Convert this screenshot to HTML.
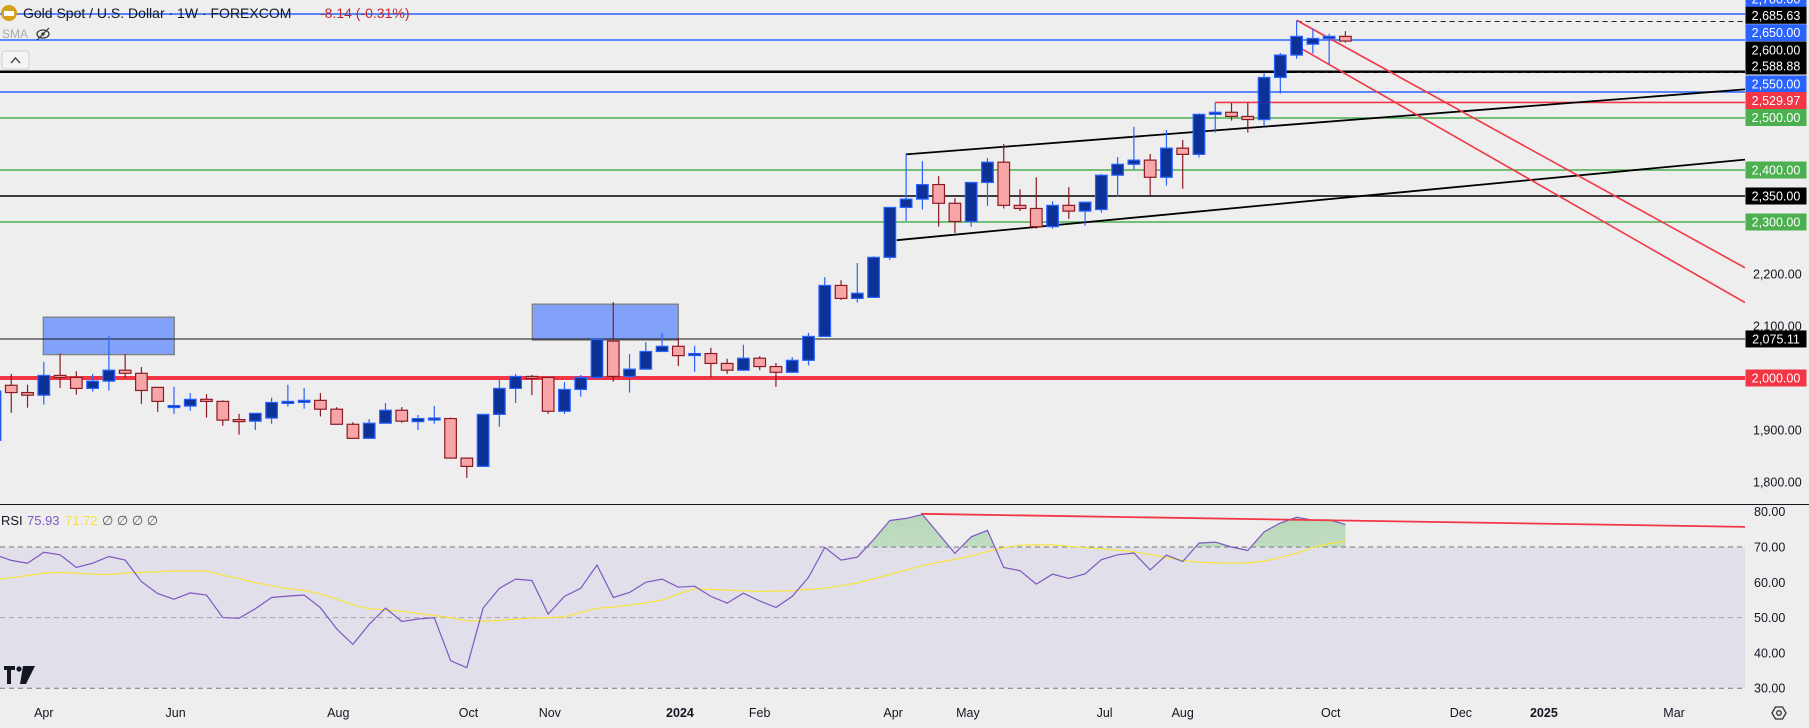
<!DOCTYPE html>
<html>
<head>
<meta charset="utf-8">
<style>
html,body{margin:0;padding:0;background:#eeeeee;}
body{width:1809px;height:723px;overflow:hidden;font-family:"Liberation Sans",sans-serif;}
svg text{font-family:"Liberation Sans",sans-serif;}
</style>
</head>
<body>
<svg id="chart" width="1809" height="723" viewBox="0 0 1809 723" xmlns="http://www.w3.org/2000/svg">
  <rect x="0" y="0" width="1809" height="723" fill="#eeeeee"/>
  <defs>
    <clipPath id="pricePane"><rect x="0" y="0" width="1745" height="504"/></clipPath>
    <clipPath id="rsiAbove"><rect x="0" y="505" width="1745" height="42"/></clipPath>
    <linearGradient id="greenGrad" x1="0" y1="0" x2="0" y2="1">
      <stop offset="0" stop-color="#4caf50" stop-opacity="0.35"/>
      <stop offset="1" stop-color="#4caf50" stop-opacity="0.02"/>
    </linearGradient>
  </defs>
  <g id="priceLayer" clip-path="url(#pricePane)"></g>
  <g id="rsiLayer"></g>
  <g id="axisLayer"></g>
  <g id="headerLayer">
    <circle cx="9" cy="13" r="8" fill="#d4a017"/>
    <rect x="4" y="11" width="10" height="5" fill="#fff"/>
    <text x="23" y="18" font-size="14" fill="#131722">Gold Spot / U.S. Dollar · 1W · FOREXCOM</text>
    <text x="320" y="18" font-size="14" fill="#c0282f">-8.14 (-0.31%)</text>
    <text x="2" y="38" font-size="12" fill="#aaaaaa">SMA</text>
    <g>
      <ellipse cx="43" cy="34" rx="6" ry="4" fill="none" stroke="#333" stroke-width="1.2"/>
      <circle cx="43" cy="34" r="1.6" fill="#333"/>
      <line x1="37" y1="40" x2="49" y2="28" stroke="#333" stroke-width="1.2"/>
    </g>
    <rect x="2" y="51" width="27" height="18" rx="3" fill="#f4f4f4" stroke="#cfcfcf"/>
    <path d="M11 63 L15.5 58 L20 63" fill="none" stroke="#333" stroke-width="1.3"/>
    <text x="1" y="525" font-size="13" fill="#131722">RSI</text>
    <text x="27" y="525" font-size="13" fill="#7e57c2">75.93</text>
    <text x="65" y="525" font-size="13" fill="#f7e03c">71.72</text>
    <text x="102" y="525" font-size="13" fill="#555">∅ ∅ ∅ ∅</text>
    <g>
      <path d="M4 666 h11 v4 h-4 v14 h-4 v-14 h-3 z" fill="#131722"/>
      <circle cx="19" cy="669" r="2.6" fill="#131722"/>
      <path d="M23 666 h12 l-9 18 h-6 z" fill="#131722"/>
    </g>
    <g>
      <path d="M1772 713 l3.5 -6 h7 l3.5 6 l-3.5 6 h-7 z" fill="none" stroke="#333" stroke-width="1.3"/>
      <circle cx="1779" cy="713" r="2.3" fill="none" stroke="#333" stroke-width="1.3"/>
    </g>
  </g>
</svg>
<script>
// ---------- data ----------
const opens  = [1880,1986,1972,1967,2005,2001,1980,1994,2015,2009,1982,1946,1946,1959,1955,1920,1917,1923,1953,1955,1957,1940,1911,1884,1913,1938,1916,1922,1922,1846,1830,1930,1980,2003,2001,1936,1978,2001,2071,2003,2017,2051,2061,2044,2047,2028,2015,2038,2022,2011,2034,2080,2178,2153,2155,2232,2328,2344,2372,2336,2301,2376,2415,2332,2326,2291,2332,2321,2324,2390,2411,2419,2386,2442,2430,2507,2511,2503,2497,2578,2621,2642,2653,2657];
const highs  = [1990,2008,1987,2031,2047,2013,2008,2081,2046,2021,1983,1983,1971,1969,1957,1931,1932,1962,1987,1981,1971,1944,1915,1921,1952,1944,1929,1946,1924,1847,1931,1996,2008,2006,2002,1992,2006,2075,2146,2046,2069,2087,2077,2062,2058,2037,2064,2042,2029,2040,2087,2194,2188,2221,2234,2329,2431,2417,2388,2346,2377,2423,2450,2363,2386,2340,2367,2339,2392,2425,2483,2431,2477,2458,2509,2530,2529,2529,2587,2625,2687,2672,2662,2667];
const lows   = [1865,1933,1943,1949,1981,1968,1974,1976,2001,1950,1935,1931,1937,1924,1908,1891,1900,1912,1945,1941,1926,1910,1883,1883,1913,1914,1900,1912,1845,1808,1829,1906,1952,1967,1931,1931,1964,1999,1993,1972,2016,2050,2023,2012,2001,2008,2014,2015,1983,2010,2024,2079,2150,2145,2154,2227,2302,2324,2291,2279,2291,2331,2326,2321,2287,2287,2306,2293,2318,2349,2401,2351,2370,2364,2424,2472,2495,2472,2485,2547,2614,2624,2603,2645];
const closes = [1975,1972,1967,2005,2001,1980,1994,2015,2009,1976,1955,1947,1959,1955,1919,1918,1932,1953,1955,1957,1940,1911,1884,1913,1938,1917,1922,1923,1846,1830,1930,1980,2003,2002,1936,1978,2001,2074,2003,2017,2051,2061,2043,2047,2028,2015,2038,2022,2011,2034,2080,2178,2153,2163,2232,2328,2344,2372,2336,2301,2376,2415,2332,2326,2291,2332,2321,2338,2390,2411,2419,2386,2442,2430,2507,2511,2503,2497,2578,2621,2657,2653,2657,2648];
const rsiValues = [67.8,66.2,65.4,68.5,67.8,64.2,65.4,67.3,66.3,60.2,56.8,55.2,57.0,56.4,50.0,49.8,52.5,55.7,56.1,56.4,52.8,46.8,42.4,48.1,52.7,48.9,49.6,50.0,37.8,35.8,52.7,58.3,60.9,60.5,51.0,56.0,58.3,64.9,55.7,57.1,60.0,60.9,58.6,58.9,56.0,54.1,56.9,54.7,52.9,56.0,61.4,69.9,66.3,67.1,72.1,77.5,78.1,79.2,73.7,68.2,72.9,74.7,64.2,63.3,59.5,62.3,61.1,62.4,66.4,67.8,68.3,63.5,67.7,65.9,71.1,71.4,70.0,69.0,74.3,76.8,78.4,77.6,77.7,76.4];
const rsiMa = [60.8,61.3,61.9,62.6,62.8,62.6,62.3,62.2,62.6,62.8,63.0,63.2,63.2,63.2,62.0,61.1,59.9,59.0,58.2,57.7,56.7,55.2,53.6,52.5,52.2,51.8,51.2,50.6,50.0,49.1,49.0,49.2,49.6,49.9,50.0,50.2,51.5,52.6,53.0,53.5,54.2,55.0,56.7,58.2,58.0,57.8,57.6,57.4,57.5,57.6,58.0,58.3,59.0,59.8,61.0,62.2,63.5,64.7,65.7,66.5,67.5,68.7,69.8,70.5,70.6,70.6,70.2,69.8,69.5,69.1,68.6,67.9,67.0,66.2,65.7,65.5,65.4,65.5,66.0,67.0,68.3,69.8,71.0,71.7];
const priceTicks = [2200,2100,1900,1800];
const rsiTicks = [80,70,60,50,40,30];
const levelPrices = [2700,2650,2550,2500,2400,2300];
const levelColors = ["#2962ff","#2962ff","#2962ff","#4caf50","#4caf50","#4caf50"];
const timeLabels = ["Apr","Jun","Aug","Oct","Nov","2024","Feb","Apr","May","Jul","Aug","Oct","Dec","2025","Mar"];
const timeWeeks  = [3,11.1,21.1,29.1,34.1,42.1,47,55.2,59.8,68.2,73,82.1,90.1,95.2,103.2];

// ---------- scales ----------
const NS = "http://www.w3.org/2000/svg";
function xOf(i){ return -5 + 16.27*i; }
function yOf(p){ return 40 + (2650 - p)*0.52; }
function yRsi(v){ return 547 + (70 - v)*3.53; }
function mk(tag, attrs, parent){
  const e = document.createElementNS(NS, tag);
  for (const k in attrs) e.setAttribute(k, attrs[k]);
  parent.appendChild(e);
  return e;
}
const P = document.getElementById("priceLayer");
const R = document.getElementById("rsiLayer");
const A = document.getElementById("axisLayer");
const PANE_R = 1745;

// ---------- price pane: boxes ----------
let el;
el = mk("rect",{x:43.3,y:yOf(2117),width:131,height:yOf(2045)-yOf(2117),fill:"#82a1f8",stroke:"#808080","stroke-width":1.3},P);


el = mk("rect",{x:532.3,y:yOf(2142),width:146,height:yOf(2073)-yOf(2142),fill:"#82a1f8",stroke:"#808080","stroke-width":1.3},P);



// horizontal levels
levelPrices.forEach((p,k)=>{
  const l = mk("line",{x1:0,x2:PANE_R,y1:yOf(p),y2:yOf(p),stroke:levelColors[k],"stroke-width":1.5},P);
  
  
});
el = mk("line",{x1:0,x2:PANE_R,y1:yOf(2350),y2:yOf(2350),stroke:"#000","stroke-width":1.6},P);


el = mk("line",{x1:0,x2:PANE_R,y1:yOf(2588.88),y2:yOf(2588.88),stroke:"#000","stroke-width":2.5},P);


el = mk("line",{x1:0,x2:PANE_R,y1:yOf(2075.11),y2:yOf(2075.11),stroke:"#131722","stroke-width":1},P);


el = mk("line",{x1:0,x2:PANE_R,y1:yOf(2000),y2:yOf(2000),stroke:"#f23645","stroke-width":4},P);


el = mk("line",{x1:xOf(75),x2:PANE_R,y1:yOf(2529.97),y2:yOf(2529.97),stroke:"#f23645","stroke-width":1.6},P);


el = mk("line",{x1:xOf(80),x2:PANE_R,y1:yOf(2685.63),y2:yOf(2685.63),stroke:"#222","stroke-width":1,"stroke-dasharray":"5,4"},P);


el = mk("line",{x1:xOf(80),x2:PANE_R,y1:yOf(2588),y2:yOf(2588),stroke:"#222","stroke-width":1,"stroke-dasharray":"5,4"},P);



// channel trendlines
el = mk("line",{x1:905.7,y1:yOf(2430),x2:PANE_R,y2:yOf(2555),stroke:"#000","stroke-width":1.8},P);


el = mk("line",{x1:896.7,y1:yOf(2265),x2:PANE_R,y2:yOf(2420),stroke:"#000","stroke-width":1.8},P);


el = mk("line",{x1:xOf(80),y1:yOf(2688),x2:PANE_R,y2:yOf(2212),stroke:"#f23645","stroke-width":1.6},P);


el = mk("line",{x1:xOf(80)+6,y1:yOf(2632),x2:PANE_R,y2:yOf(2145),stroke:"#f23645","stroke-width":1.6},P);



// candles
for (let i=0;i<closes.length;i++){
  const up = closes[i] >= opens[i];
  const cx = xOf(i);
  const g = mk("g",{},P);
  
  
  const stroke = up ? "#2962ff" : "#8b1a24";
  const fill = up ? "#0c3197" : "#f7a6a7";
  mk("line",{x1:cx,x2:cx,y1:yOf(highs[i]),y2:yOf(lows[i]),stroke:stroke,"stroke-width":1.2},g);
  const top = yOf(Math.max(opens[i],closes[i]));
  const h = Math.max(2, yOf(Math.min(opens[i],closes[i])) - top);
  mk("rect",{x:cx-5.8,y:top,width:11.6,height:h,fill:fill,stroke:stroke,"stroke-width":1.2},g);
}

// pane separator
el = mk("line",{x1:0,x2:1809,y1:504.5,y2:504.5,stroke:"#131722","stroke-width":1},A);



// ---------- RSI pane ----------
el = mk("rect",{x:0,y:yRsi(70),width:PANE_R,height:yRsi(30)-yRsi(70),fill:"#e1dfea"},R);


[70,50,30].forEach(v=>{
  const l = mk("line",{x1:0,x2:PANE_R,y1:yRsi(v),y2:yRsi(v),stroke:v===50?"#a8a4b0":"#777",
    "stroke-width":1,"stroke-dasharray":"5,4"},R);
  
  
});
let pts = rsiValues.map((v,i)=>xOf(i).toFixed(1)+","+yRsi(v).toFixed(1));
el = mk("polygon",{points:xOf(0)+","+yRsi(70)+" "+pts.join(" ")+" "+xOf(rsiValues.length-1)+","+yRsi(70),
  fill:"url(#greenGrad)","clip-path":"url(#rsiAbove)"},R);


el = mk("polyline",{points:rsiMa.map((v,i)=>xOf(i).toFixed(1)+","+yRsi(v).toFixed(1)).join(" "),
  fill:"none",stroke:"#f6e43c","stroke-width":1.2},R);


el = mk("polyline",{points:pts.join(" "),fill:"none",stroke:"#7e57c2","stroke-width":1.2},R);


el = mk("line",{x1:921,y1:yRsi(79.4),x2:PANE_R,y2:yRsi(75.7),stroke:"#f23645","stroke-width":1.8},R);



// ---------- price axis ----------
function tag(y, text, bg, name){
  const g = mk("g",{},A);
  
  
  mk("rect",{x:1745.5,y:y-8.5,width:61,height:17,fill:bg},g);
  const t = mk("text",{x:1776,y:y+4.5,"font-size":12.5,"text-anchor":"middle",fill:"#fff"},g);
  t.textContent = text;
}
priceTicks.forEach(p=>{
  const t = mk("text",{x:1753,y:yOf(p)+4.5,"font-size":12.5,fill:"#131722"},A);
  
  
  t.textContent = p.toLocaleString("en-US",{minimumFractionDigits:2});
});
tag(-1,"2,700.00","#2962ff","price-tag-2700");
tag(15.3,"2,685.63","#000000","price-tag-2685");
tag(32.7,"2,650.00","#2962ff","price-tag-2650");
tag(50,"2,600.00","#000000","price-tag-2600");
tag(66,"2,588.88","#000000","price-tag-2588");
tag(84,"2,550.00","#2962ff","price-tag-2550");
tag(100.5,"2,529.97","#f23645","price-tag-2529");
tag(117.5,"2,500.00","#4caf50","price-tag-2500");
tag(yOf(2400),"2,400.00","#4caf50","price-tag-2400");
tag(yOf(2350),"2,350.00","#000000","price-tag-2350");
tag(yOf(2300),"2,300.00","#4caf50","price-tag-2300");
tag(yOf(2075.11),"2,075.11","#000000","price-tag-2075");
tag(yOf(2000),"2,000.00","#f23645","price-tag-2000");

rsiTicks.forEach(v=>{
  const t = mk("text",{x:1754,y:yRsi(v)+4.5,"font-size":12.5,fill:"#131722"},A);
  
  
  t.textContent = v.toFixed(2);
});

// ---------- time axis ----------
timeLabels.forEach((lab,k)=>{
  const bold = /^\d{4}$/.test(lab);
  const t = mk("text",{x:xOf(timeWeeks[k]),y:717,"font-size":12.5,"text-anchor":"middle",
    fill:"#131722","font-weight":bold?"bold":"normal"},A);
  
  
  t.textContent = lab;
});
</script>
</body>
</html>
